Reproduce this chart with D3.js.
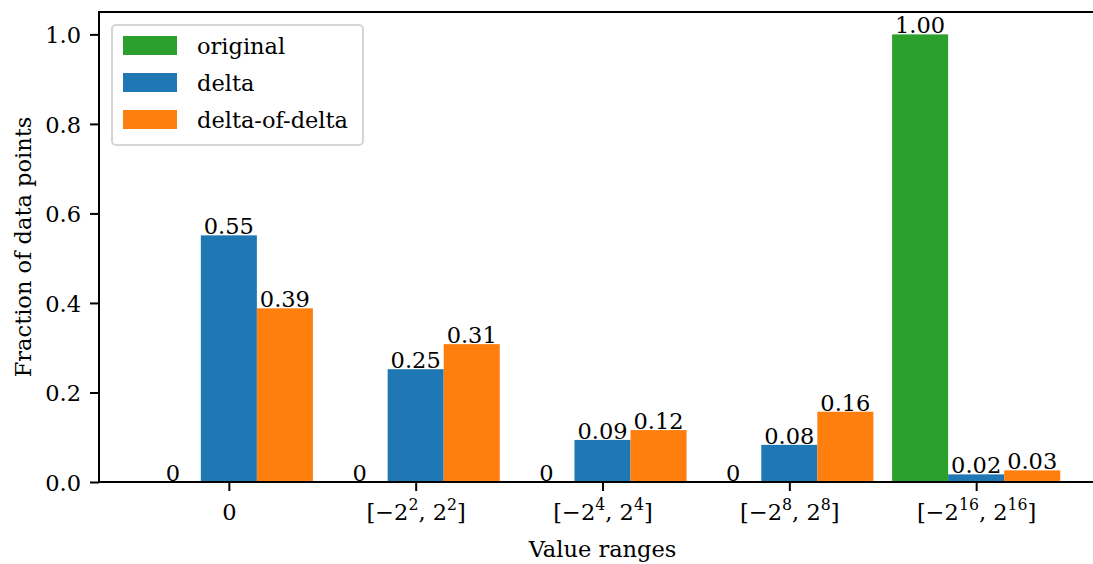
<!DOCTYPE html>
<html>
<head>
<meta charset="utf-8">
<script src="https://cdn.jsdelivr.net/npm/d3@7"></script>
<style>
  html, body { margin: 0; padding: 0; background: #fff; }
  svg text { font-family: "DejaVu Serif", serif; fill: #000; }
</style>
</head>
<body>
<svg id="chart" width="1093" height="564"></svg>
<script>
// ---- data ----
const categories = ["0", "2", "4", "8", "16"]; // exponent of the range [-2^k, 2^k] (first is plain "0")
const seriesNames = ["original", "delta", "delta-of-delta"];
const originalValues = [0, 0, 0, 0, 1.0];
const deltaValues = [0.551, 0.252, 0.094, 0.083, 0.017];
const deltaOfDeltaValues = [0.388, 0.308, 0.116, 0.157, 0.026];
const yTicks = [0.0, 0.2, 0.4, 0.6, 0.8, 1.0];
const colors = ["#2ca02c", "#1f77b4", "#ff7f0e"];

const series = [originalValues, deltaValues, deltaOfDeltaValues];

const svg = d3.select("#chart");
const W = 1093, H = 564;
const mLeft = 99, mRight = 1106, mTop = 12, mBottom = 482;
const FS = 22.5;
const FONT = "DejaVu Serif";

const barW = 0.3;
const x = d3.scaleLinear().domain([-0.695, 4.695]).range([mLeft, mRight]);
const y = d3.scaleLinear().domain([0, 1.05]).range([mBottom, mTop]);

// bars
series.forEach((vals, si) => {
  const off = (si - 1) * barW;
  svg.append("g").selectAll("rect").data(vals).join("rect")
    .attr("x", (d, i) => x(i + off - barW / 2))
    .attr("width", (d, i) => x(i + off + barW / 2) - x(i + off - barW / 2))
    .attr("y", d => y(d))
    .attr("height", d => y(0) - y(d))
    .attr("fill", colors[si]);
  svg.append("g").selectAll("text").data(vals).join("text")
    .attr("x", (d, i) => x(i + off))
    .attr("y", d => y(d) - 1)
    .attr("text-anchor", "middle")
    .attr("font-size", FS)
    .text(d => d === 0 ? "0" : d.toFixed(2));
});

// spines
svg.append("line").attr("x1", mLeft).attr("x2", W).attr("y1", mTop).attr("y2", mTop)
  .attr("stroke", "#000").attr("stroke-width", 2);
svg.append("line").attr("x1", mLeft).attr("x2", W).attr("y1", mBottom).attr("y2", mBottom)
  .attr("stroke", "#000").attr("stroke-width", 2);
svg.append("line").attr("x1", mLeft).attr("x2", mLeft).attr("y1", mTop - 1).attr("y2", mBottom + 1)
  .attr("stroke", "#000").attr("stroke-width", 2);

// y axis
const yAxis = svg.append("g").attr("transform", `translate(${mLeft},0)`)
  .call(d3.axisLeft(y).tickValues(yTicks).tickSize(9).tickPadding(9).tickFormat(d3.format(".1f")));
yAxis.select(".domain").remove();
yAxis.selectAll(".tick line").attr("stroke", "#000").attr("stroke-width", 2);
yAxis.selectAll(".tick text").attr("font-size", FS).attr("font-family", FONT).attr("dy", "0.36em").attr("fill", "#000");

// x axis
const xAxis = svg.append("g").attr("transform", `translate(0,${mBottom})`)
  .call(d3.axisBottom(x).tickValues(d3.range(categories.length)).tickSize(9).tickFormat(""));
xAxis.select(".domain").remove();
xAxis.selectAll(".tick line").attr("stroke", "#000").attr("stroke-width", 2);
xAxis.selectAll(".tick").each(function (d, i) {
  const t = d3.select(this).append("text")
    .attr("y", 38).attr("text-anchor", "middle")
    .attr("font-size", FS).attr("font-family", FONT).attr("fill", "#000");
  const k = categories[i];
  if (k === "0") { t.text("0"); return; }
  t.append("tspan").text("[\u22122");
  t.append("tspan").attr("dy", -10).attr("font-size", FS * 0.7).text(k);
  t.append("tspan").attr("dy", 10).text(", 2");
  t.append("tspan").attr("dy", -10).attr("font-size", FS * 0.7).text(k);
  t.append("tspan").attr("dy", 10).text("]");
});

// axis labels
svg.append("text").attr("x", (mLeft + mRight) / 2).attr("y", 557)
  .attr("text-anchor", "middle").attr("font-size", FS).text("Value ranges");
svg.append("text").attr("transform", `translate(31,${(mTop + mBottom) / 2}) rotate(-90)`)
  .attr("text-anchor", "middle").attr("font-size", FS).text("Fraction of data points");

// legend
const lg = svg.append("g");
lg.append("rect").attr("x", 112).attr("y", 25).attr("width", 251).attr("height", 120)
  .attr("rx", 4).attr("fill", "#fff").attr("fill-opacity", 0.8)
  .attr("stroke", "#d5d5d5").attr("stroke-width", 2);
seriesNames.forEach((name, i) => {
  const cy = 45.5 + i * 37;
  lg.append("rect").attr("x", 123).attr("y", cy - 9.5).attr("width", 54).attr("height", 19)
    .attr("fill", colors[i]);
  lg.append("text").attr("x", 197).attr("y", cy + 8.5).attr("font-size", FS).text(name);
});
</script>
</body>
</html>
